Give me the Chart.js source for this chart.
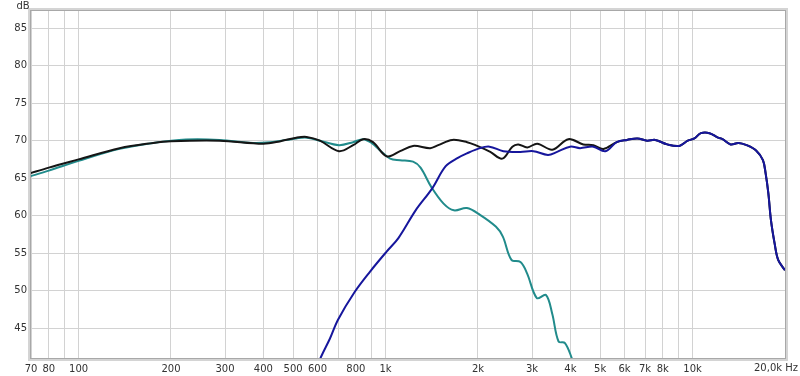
<!DOCTYPE html>
<html>
<head>
<meta charset="utf-8">
<script src="https://cdn.jsdelivr.net/npm/chart.js@4/dist/chart.umd.min.js"></script>
<style>
  html, body { margin: 0; padding: 0; background: #fff; }
  #wrap { width: 800px; height: 376px; }
</style>
</head>
<body>
<div id="wrap"><canvas id="fr"></canvas></div>
<script>
// frequency axis ticks (Hz) and their labels ('' = gridline only)
var xTicks  = [70, 80, 90, 100, 200, 300, 400, 500, 600, 700, 800, 900, 1000, 2000, 3000, 4000, 5000, 6000, 7000, 8000, 9000, 10000, 20000];
var xLabels = ['70', '80', '', '100', '200', '300', '400', '500', '600', '', '800', '', '1k', '2k', '3k', '4k', '5k', '6k', '7k', '8k', '', '10k', ''];
var yTicks  = [45, 50, 55, 60, 65, 70, 75, 80, 85];

// woofer (teal)
var wooferHz = [69, 80, 100, 136, 175, 224, 288, 370, 420, 512, 553, 611, 705, 784, 845, 900, 960, 1035, 1115, 1229, 1300, 1410, 1545, 1670, 1840, 2030, 2290, 2410, 2570, 2750, 2890, 3110, 3330, 3490, 3660, 3840, 4040, 4150];
var wooferDb = [65.2, 66.0, 67.3, 68.9, 69.7, 70.15, 70.1, 69.7, 69.8, 70.3, 70.4, 70.0, 69.4, 69.8, 70.2, 69.7, 68.7, 67.6, 67.4, 67.2, 66.4, 63.8, 61.6, 60.7, 61.0, 60.1, 58.5, 57.2, 54.1, 53.8, 52.3, 49.0, 49.4, 46.9, 43.2, 43.0, 41.0, 39.5];

// tweeter (blue)
var tweeterHz = [600, 617, 659, 700, 793, 889, 1008, 1101, 1253, 1417, 1570, 1720, 1840, 2030, 2180, 2420, 2750, 3030, 3380, 3620, 3990, 4300, 4750, 5200, 5660, 6120, 6610, 7110, 7560, 8270, 9050, 9650, 10140, 10650, 11350, 12100, 12520, 13300, 14100, 15000, 16100, 16950, 17300, 17650, 18000, 18500, 19000, 20000];
var tweeterDb = [40.0, 41.2, 43.6, 46.1, 49.8, 52.5, 55.2, 57.0, 60.7, 63.6, 66.6, 67.7, 68.3, 69.0, 69.2, 68.6, 68.5, 68.6, 68.1, 68.5, 69.2, 69.0, 69.2, 68.6, 69.8, 70.1, 70.3, 70.0, 70.1, 69.5, 69.3, 70.0, 70.3, 71.0, 71.0, 70.4, 70.2, 69.5, 69.7, 69.4, 68.7, 67.4, 65.6, 63.0, 59.4, 56.3, 54.1, 52.7];

// summed response (black)
var sumHz = [69, 80, 100, 136, 175, 200, 288, 399, 452, 512, 553, 611, 705, 784, 845, 910, 1010, 1115, 1229, 1397, 1484, 1648, 1844, 1989, 2193, 2400, 2588, 2706, 2895, 3120, 3493, 3939, 4406, 4753, 5124, 5660, 6120, 6610, 7110, 7560, 8270, 9050, 9650, 10140, 10650, 11350, 12100, 12520, 13300, 14100, 15000, 16100, 16950, 17300, 17650, 18000, 18500, 19000, 20000];
var sumDb = [65.6, 66.4, 67.5, 69.0, 69.7, 69.93, 70.0, 69.6, 69.9, 70.4, 70.5, 70.0, 68.6, 69.4, 70.2, 69.8, 67.9, 68.6, 69.3, 69.0, 69.4, 70.1, 69.8, 69.3, 68.5, 67.6, 69.2, 69.5, 69.1, 69.6, 68.8, 70.2, 69.5, 69.4, 68.9, 69.8, 70.1, 70.3, 70.0, 70.1, 69.5, 69.3, 70.0, 70.3, 71.0, 71.0, 70.4, 70.2, 69.5, 69.7, 69.4, 68.7, 67.4, 65.6, 63.0, 59.4, 56.3, 54.1, 52.7];

function pts(hz, db) { return hz.map(function (f, i) { return { x: f, y: db[i] }; }); }

var FONT = '"DejaVu Sans", Verdana, sans-serif';

var framePlugin = {
  id: 'frame',
  afterDraw: function (chart) {
    var c = chart.ctx, a = chart.chartArea;
    c.save();
    c.strokeStyle = '#d4d4d4';
    c.lineWidth = 3;
    c.strokeRect(a.left - 1.5, a.top - 1.5, a.right - a.left + 3, a.bottom - a.top + 3);
    c.strokeStyle = '#a8a8a8';
    c.lineWidth = 1;
    c.strokeRect(a.left - 0.5, a.top - 0.5, a.right - a.left + 1, a.bottom - a.top + 1);
    c.fillStyle = '#333';
    c.font = '10px ' + FONT;
    c.textBaseline = 'middle';
    c.textAlign = 'center';
    c.fillText('dB', 23, 6);
    c.textAlign = 'right';
    c.fillText('20,0k Hz', 798, 368);
    c.restore();
  }
};

new Chart(document.getElementById('fr'), {
  type: 'line',
  data: {
    datasets: [
      { label: 'Tweeter', data: pts(tweeterHz, tweeterDb), borderColor: '#16169c', borderWidth: 2, order: 1 },
      { label: 'Summe', data: pts(sumHz, sumDb), borderColor: '#151515', borderWidth: 2, order: 2 },
      { label: 'Woofer', data: pts(wooferHz, wooferDb), borderColor: '#218b8b', borderWidth: 2, order: 3 }
    ]
  },
  options: {
    responsive: true,
    maintainAspectRatio: false,
    animation: false,
    elements: { point: { radius: 0 }, line: { tension: 0.35, fill: false } },
    layout: { padding: { top: 11, right: 15, left: 0, bottom: 0 } },
    plugins: { legend: { display: false }, tooltip: { enabled: false } },
    scales: {
      x: {
        type: 'logarithmic',
        min: 70, max: 20000,
        afterBuildTicks: function (s) { s.ticks = xTicks.map(function (v) { return { value: v }; }); },
        afterFit: function (s) { s.height = 18; },
        ticks: {
          autoSkip: false, maxRotation: 0, padding: 5, color: '#333',
          font: { family: FONT, size: 10 },
          callback: function (v) { var i = xTicks.indexOf(v); return i < 0 ? '' : xLabels[i]; }
        },
        grid: { color: '#d2d2d2', drawTicks: false },
        border: { display: false }
      },
      y: {
        min: 41, max: 87.3,
        afterBuildTicks: function (s) { s.ticks = yTicks.map(function (v) { return { value: v }; }); },
        afterFit: function (s) { s.width = 31; },
        ticks: { padding: 4, color: '#333', font: { family: FONT, size: 10 } },
        grid: { color: '#d2d2d2', drawTicks: false },
        border: { display: false }
      }
    }
  },
  plugins: [framePlugin]
});
</script>
</body>
</html>
